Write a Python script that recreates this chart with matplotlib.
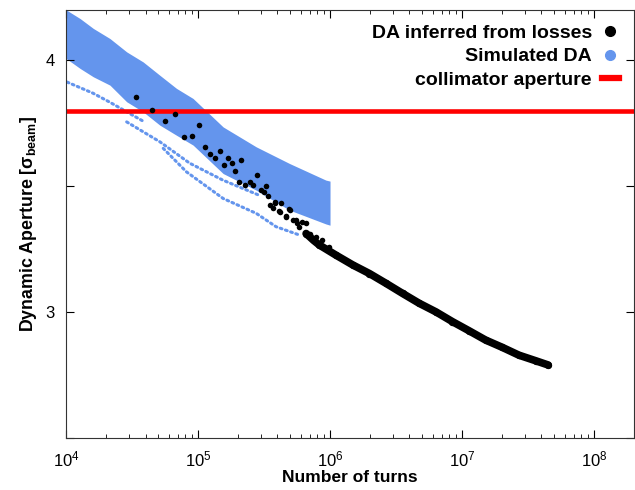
import numpy as np
import matplotlib.pyplot as plt
from matplotlib.lines import Line2D

plt.rcParams['font.family'] = ['Liberation Sans', 'DejaVu Sans']
plt.rcParams['mathtext.fontset'] = 'custom'
plt.rcParams['mathtext.rm'] = 'Liberation Sans'
plt.rcParams['mathtext.bf'] = 'Liberation Sans:bold'
plt.rcParams['mathtext.it'] = 'Liberation Sans:italic'

# simulated DA: edges of the dense cloud
band_x = [1e4, 1.28e4, 1.61e4, 2.15e4, 2.88e4, 3.84e4, 5.14e4, 6.87e4, 9.17e4,
          1.55e5, 2.76e5, 4.93e5, 9.3e5, 1e6]
band_up = [4.2, 4.165, 4.126, 4.086, 4.033, 3.993, 3.94, 3.888, 3.848,
           3.735, 3.656, 3.59, 3.524, 3.52]
band_lo = [4.007, 3.967, 3.934, 3.901, 3.835, 3.795, 3.742, 3.702, 3.663,
           3.55, 3.484, 3.405, 3.35, 3.345]

# simulated DA curves lying below the cloud
c1_x = [1.02e4, 1.6e4, 2.15e4, 2.9e4, 3.96e4]
c1_y = [3.913, 3.869, 3.833, 3.794, 3.754]
c2_x = [2.88e4, 5.14e4, 8.65e4, 1.54e5, 2.9e5]
c2_y = [3.755, 3.676, 3.591, 3.524, 3.464]
c3_x = [5.45e4, 8.16e4, 1.55e5, 2.76e5, 3.9e5, 5.86e5]
c3_y = [3.650, 3.557, 3.451, 3.392, 3.339, 3.306]

# DA inferred from losses
loss_x = [3.38e4, 4.47e4, 5.63e4, 6.7e4, 7.84e4, 8.96e4, 1.01e5, 1.12e5, 1.24e5,
          1.35e5, 1.46e5, 1.56e5, 1.69e5, 1.8e5, 1.92e5, 2.13e5, 2.03e5, 2.26e5,
          2.46e5, 2.6e5, 2.81e5, 2.98e5, 3.25e5, 3.14e5, 3.38e5, 3.48e5, 3.82e5,
          4.27e5, 3.69e5, 4.14e5, 5.01e5, 4.66e5, 5.22e5, 5.6e5, 6.15e5,
          3.8e5, 4.15e5, 4.66e5, 4.93e5, 5.5e5, 5.86e5, 6.6e5, 7.0e5, 7.85e5,
          8.75e5, 9.9e5]
loss_y = [3.852, 3.804, 3.759, 3.787, 3.694, 3.701, 3.741, 3.656, 3.628,
          3.611, 3.64, 3.582, 3.611, 3.59, 3.561, 3.602, 3.516, 3.505,
          3.515, 3.504, 3.545, 3.484, 3.501, 3.477, 3.46, 3.425, 3.437,
          3.435, 3.412, 3.402, 3.407, 3.381, 3.365, 3.352, 3.358,
          3.434, 3.398, 3.378, 3.411, 3.365, 3.339, 3.352, 3.312, 3.299,
          3.286, 3.259]
dense_x = [6.59e5, 7.5e5, 8.32e5, 1.11e6, 1.49e6, 1.99e6, 2.66e6, 3.55e6, 4.74e6,
           6.34e6, 8.47e6, 1.13e7, 1.51e7, 2.02e7, 2.7e7, 3.61e7, 4.5e7]
dense_y = [3.312, 3.285, 3.266, 3.226, 3.187, 3.153, 3.114, 3.074, 3.035,
           3.001, 2.962, 2.926, 2.889, 2.860, 2.829, 2.807, 2.79]

collimator = 3.8

blue = '#6495ed'

fig = plt.figure(figsize=(6.35, 4.9), dpi=100)
ax = fig.add_axes([0.104, 0.106, 0.894, 0.874])

ax.fill_between(band_x, band_lo, band_up, color=blue, lw=0, zorder=1)
for cx, cy in [(c1_x, c1_y), (c2_x, c2_y), (c3_x, c3_y)]:
    ax.plot(cx, cy, color=blue, ls=(0, (0.6, 1.2)), lw=2.2,
            dash_capstyle='round', zorder=1)

ax.axhline(collimator, color='red', lw=3.3, zorder=2)

ax.plot(dense_x, dense_y, color='black', lw=5.5, solid_capstyle='round', zorder=3)
ax.scatter(dense_x, dense_y, s=28, color='black', lw=0, zorder=3)
ax.scatter(loss_x, loss_y, s=16, color='black', lw=0, zorder=3)

ax.set_xscale('log')
ax.set_xlim(1e4, 2e8)
ax.set_ylim(2.5, 4.2)
ax.set_yticks([2.5, 3, 3.5, 4])
ax.set_yticklabels(['', '3', '', '4'])
ax.tick_params(which='both', direction='in', top=True, right=True,
               labelsize=12, pad=8)
ax.tick_params(which='major', length=6)
ax.tick_params(which='minor', length=3)
for s in ax.spines.values():
    s.set_color('#333333')

ax.set_xlabel('Number of turns', fontsize=12.5, fontweight='bold', labelpad=1)
ax.set_ylabel(r'Dynamic Aperture [σ$_{\mathbf{beam}}$]', fontsize=12.8,
              fontweight='bold', labelpad=5)

handles = [
    Line2D([], [], ls='none', marker='o', color='black', ms=7),
    Line2D([], [], ls='none', marker='o', color=blue, ms=7),
    Line2D([], [], color='red', lw=4.5),
]
ax.legend(handles, ['DA inferred from losses', 'Simulated DA', 'collimator aperture'],
          loc='upper right', frameon=False, markerfirst=False,
          handlelength=0.9, handletextpad=0.5, labelspacing=0.3,
          prop={'weight': 'bold', 'size': 14}, borderaxespad=0.35)

fig.savefig('out.png', dpi=100)
